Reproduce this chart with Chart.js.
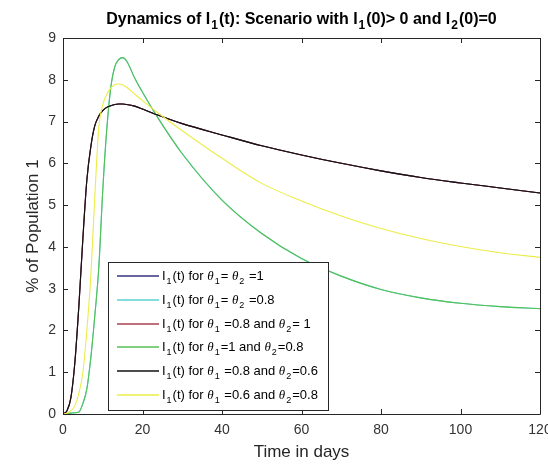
<!DOCTYPE html>
<html>
<head>
<meta charset="utf-8">
<title>Dynamics of I1(t)</title>
<script src="https://cdn.jsdelivr.net/npm/chart.js@4.4.1/dist/chart.umd.min.js"></script>
<style>
  html, body { margin: 0; padding: 0; background: #fff; }
</style>
</head>
<body>
<canvas id="dynChart" width="548" height="464"></canvas>
<script>
// time axis (days)
var days = [0, 1, 2, 3, 4, 5, 6, 7, 8, 9, 10, 11, 12, 13, 14, 15, 16, 18, 20, 24, 30, 40, 50, 60, 70, 80, 90, 100, 110, 120];

// I1(t) in % of population 1, one array per (theta1, theta2) pair
var th1_0_th2_0_8 = [0, 0.01, 0.02, 0.03, 0.05, 0.25, 0.6, 1.35, 2.35, 3.5, 5.35, 6.8, 7.8, 8.3, 8.48, 8.53, 8.45, 8.05, 7.7, 7.07, 6.23, 5.12, 4.32, 3.72, 3.3, 2.98, 2.78, 2.65, 2.57, 2.52];
var th0_8_th2_0_6 = [0, 0.08, 0.4, 1.25, 2.6, 4.2, 5.6, 6.4, 6.9, 7.13, 7.26, 7.34, 7.38, 7.41, 7.42, 7.42, 7.41, 7.37, 7.3, 7.15, 6.95, 6.68, 6.42, 6.2, 6.0, 5.82, 5.66, 5.53, 5.41, 5.29];
var th0_6_th2_0_8 = [0, 0.02, 0.08, 0.2, 0.5, 1.0, 2.0, 3.3, 5.2, 6.85, 7.4, 7.65, 7.8, 7.88, 7.9, 7.88, 7.82, 7.66, 7.5, 7.2, 6.78, 6.12, 5.52, 5.1, 4.74, 4.44, 4.2, 4.01, 3.86, 3.75];
// these three runs lie under the curves above
var thBoth1 = th0_8_th2_0_6.slice();
var thBoth0_8 = th1_0_th2_0_8.slice();
var th0_8_th2_1 = th0_8_th2_0_6.slice();

var xTicks = [0, 20, 40, 60, 80, 100, 120];
var yTicks = [0, 1, 2, 3, 4, 5, 6, 7, 8, 9];

var seriesLabels = [
  'I_1(t) for θ_1= θ_2 =1',
  'I_1(t) for θ_1= θ_2 =0.8',
  'I_1(t) for θ_1 =0.8 and θ_2= 1',
  'I_1(t) for θ_1=1 and θ_2=0.8',
  'I_1(t) for θ_1 =0.8 and θ_2=0.6',
  'I_1(t) for θ_1 =0.6 and θ_2=0.8'
];
var seriesValues = [thBoth1, thBoth0_8, th0_8_th2_1, th1_0_th2_0_8, th0_8_th2_0_6, th0_6_th2_0_8];
var seriesColors = ['#35357e', '#5ad2d2', '#a8404f', '#55c055', '#111111', '#ecec48'];

var axisInk = '#262626';
var sansFont = '"Liberation Sans", Arial, Helvetica, sans-serif';

// text with "_x" subscripts and an italic theta, like MATLAB tex labels
function richText(ctx, str, x, y, size, bold, align) {
  var runs = [];
  for (var i = 0; i < str.length; i++) {
    var ch = str[i];
    if (ch === '_') { runs.push({ t: str[i + 1], sub: true }); i++; }
    else runs.push({ t: ch, sub: false, greek: ch === 'θ' });
  }
  function fontFor(r) {
    var s = r.sub ? Math.round(size * 0.72) : size;
    if (r.greek) return 'italic ' + s + 'px "Liberation Serif", "DejaVu Serif", serif';
    return (bold ? 'bold ' : '') + s + 'px ' + sansFont;
  }
  var total = 0;
  runs.forEach(function (r) {
    ctx.font = fontFor(r);
    r.w = ctx.measureText(r.t).width + (r.sub ? 2 : 0);
    total += r.w;
  });
  var cx = align === 'center' ? x - total / 2 : x;
  ctx.textAlign = 'left';
  ctx.textBaseline = 'alphabetic';
  runs.forEach(function (r) {
    ctx.font = fontFor(r);
    ctx.fillText(r.t, cx + (r.sub ? 1 : 0), r.sub ? y + size * 0.32 : y);
    cx += r.w;
  });
}

var matlabFrame = {
  id: 'matlabFrame',
  afterDatasetsDraw: function (chart) {
    var ctx = chart.ctx, a = chart.chartArea;
    var xs = chart.scales.x, ys = chart.scales.y;
    ctx.save();
    ctx.strokeStyle = axisInk;
    ctx.lineWidth = 1;
    ctx.beginPath();
    ctx.rect(Math.round(a.left) + 0.5, Math.round(a.top) + 0.5, Math.round(a.right - a.left), Math.round(a.bottom - a.top));
    // inward tick marks on all four sides
    xTicks.forEach(function (v) {
      var px = Math.round(xs.getPixelForValue(v)) + 0.5;
      ctx.moveTo(px, a.bottom); ctx.lineTo(px, a.bottom - 5);
      ctx.moveTo(px, a.top); ctx.lineTo(px, a.top + 5);
    });
    yTicks.forEach(function (v) {
      var py = Math.round(ys.getPixelForValue(v)) + 0.5;
      ctx.moveTo(a.left, py); ctx.lineTo(a.left + 5, py);
      ctx.moveTo(a.right, py); ctx.lineTo(a.right - 5, py);
    });
    ctx.stroke();

    // title
    ctx.fillStyle = '#000';
    richText(ctx, 'Dynamics of I_1(t): Scenario with I_1(0)> 0 and I_2(0)=0', (a.left + a.right) / 2, 24, 16, true, 'center');

    // legend box
    var bx = 108.5, by = 262.5, bw = 220, bh = 148;
    ctx.fillStyle = '#fff';
    ctx.fillRect(bx, by, bw, bh);
    ctx.strokeStyle = axisInk;
    ctx.strokeRect(bx, by, bw, bh);
    seriesLabels.forEach(function (lab, i) {
      var ly = Math.round(276 + i * 23.8);
      ctx.strokeStyle = seriesColors[i];
      ctx.lineWidth = 1.6;
      ctx.beginPath();
      ctx.moveTo(117, ly); ctx.lineTo(159, ly);
      ctx.stroke();
      ctx.fillStyle = '#000';
      richText(ctx, lab, 162, ly + 4, 13, false, 'left');
    });
    ctx.restore();
  }
};

var datasets = seriesValues.map(function (vals, i) {
  return {
    label: seriesLabels[i],
    data: days.map(function (d, k) { return { x: d, y: vals[k] }; }),
    borderColor: seriesColors[i],
    borderWidth: 1.1,
    pointRadius: 0,
    fill: false,
    cubicInterpolationMode: 'monotone',
    order: seriesValues.length - 1 - i   // later runs drawn on top
  };
});

var ctx = document.getElementById('dynChart').getContext('2d');
var dynChart = new Chart(ctx, {
  type: 'line',
  data: { datasets: datasets },
  options: {
    responsive: false,
    animation: false,
    devicePixelRatio: 1,
    layout: { padding: { top: 38, right: 8, left: 0, bottom: 0 } },
    plugins: { legend: { display: false }, title: { display: false }, tooltip: { enabled: false } },
    scales: {
      x: {
        type: 'linear',
        min: 0, max: 120,
        afterBuildTicks: function (s) { s.ticks = xTicks.map(function (v) { return { value: v }; }); },
        afterFit: function (s) { s.height = 50; s.paddingLeft = 0; s.paddingRight = 0; },
        grid: { display: false, drawTicks: false },
        border: { display: false },
        ticks: { color: '#333', font: { size: 14, family: sansFont }, padding: 8, maxRotation: 0, autoSkip: false },
        title: { display: true, text: 'Time in days', color: axisInk, font: { size: 17, family: sansFont }, padding: { top: 0, bottom: 1 } }
      },
      y: {
        min: 0, max: 9,
        afterBuildTicks: function (s) { s.ticks = yTicks.map(function (v) { return { value: v }; }); },
        afterFit: function (s) { s.width = 63; s.paddingTop = 0; s.paddingBottom = 0; },
        grid: { display: false, drawTicks: false },
        border: { display: false },
        ticks: { color: '#333', font: { size: 14, family: sansFont }, padding: 7, autoSkip: false },
        title: { display: true, text: '% of Population 1', color: axisInk, font: { size: 17, family: sansFont }, padding: { top: 23, bottom: 0 } }
      }
    }
  },
  plugins: [matlabFrame]
});
</script>
</body>
</html>
